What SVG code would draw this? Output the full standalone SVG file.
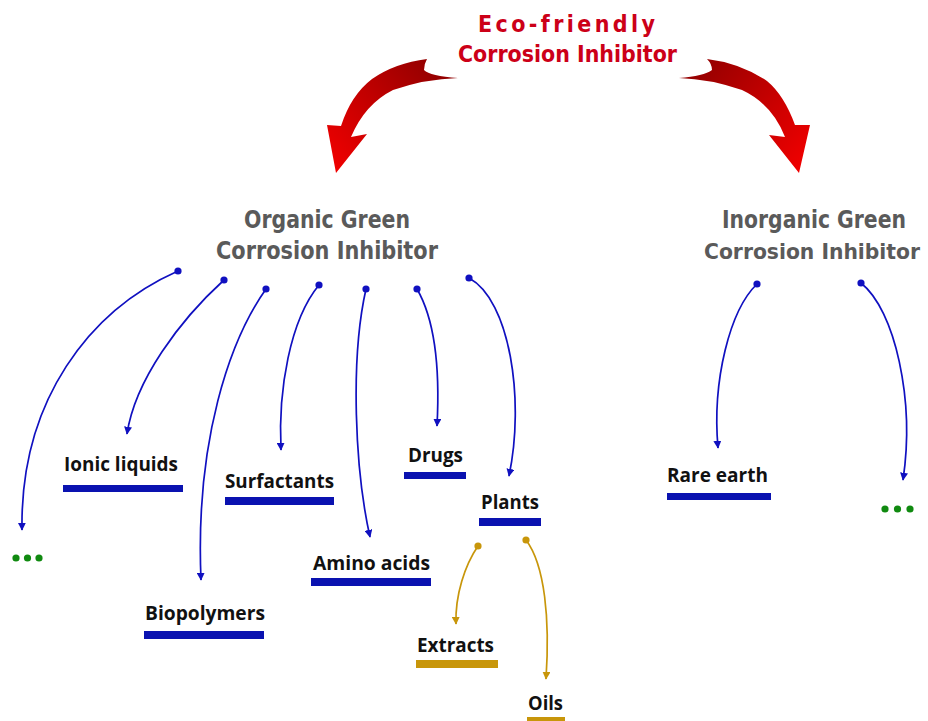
<svg xmlns="http://www.w3.org/2000/svg" width="928" height="721" viewBox="0 0 928 721">
<defs>
<linearGradient id="gL" gradientUnits="userSpaceOnUse" x1="450" y1="70" x2="335" y2="170">
<stop offset="0" stop-color="#8e0000"/><stop offset="0.5" stop-color="#c00000"/><stop offset="1" stop-color="#f00000"/>
</linearGradient>
<linearGradient id="gR" gradientUnits="userSpaceOnUse" x1="680" y1="70" x2="800" y2="170">
<stop offset="0" stop-color="#8e0000"/><stop offset="0.5" stop-color="#c00000"/><stop offset="1" stop-color="#f00000"/>
</linearGradient>
<marker id="aB" viewBox="0 0 10 10" refX="9" refY="5" markerWidth="8" markerHeight="8" markerUnits="userSpaceOnUse" orient="auto">
<path d="M0,0 L10,5 L0,10 z" fill="#1010c0"/>
</marker>
<marker id="aG" viewBox="0 0 10 10" refX="9" refY="5" markerWidth="8" markerHeight="8" markerUnits="userSpaceOnUse" orient="auto">
<path d="M0,0 L10,5 L0,10 z" fill="#c8960a"/>
</marker>
<style>
.title{font-family:"DejaVu Sans Condensed","DejaVu Sans",sans-serif;font-stretch:condensed;font-weight:bold;fill:#cc0018;font-size:23px}
.head{font-family:"DejaVu Sans Condensed","DejaVu Sans",sans-serif;font-stretch:condensed;font-weight:bold;fill:#5a5a5a;font-size:24px}
.headS{font-family:"DejaVu Sans Condensed","DejaVu Sans",sans-serif;font-stretch:condensed;font-weight:bold;fill:#5a5a5a;font-size:22px}
.lbl{font-family:"Open Sans","Liberation Sans",sans-serif;font-weight:bold;fill:#111;font-size:19.5px}
.bar{fill:#0a12b0}
.barG{fill:#c8960a}
.cB{fill:none;stroke:#1010c0;stroke-width:1.7;marker-end:url(#aB)}
.cG{fill:none;stroke:#c8960a;stroke-width:1.7;marker-end:url(#aG)}
.dB{fill:#1010c0}
.dG{fill:#c8960a}
.dots{fill:#108a10}
</style>
</defs>

<g id="title">
<text class="title" x="478" y="32" textLength="177" lengthAdjust="spacing">Eco-friendly</text>
<text class="title" x="458" y="62" textLength="219" lengthAdjust="spacingAndGlyphs">Corrosion Inhibitor</text>
</g>

<g id="red-arrows">
<path fill="url(#gL)" d="M427,59 Q424,64 424,70 Q430,76 458,78 Q425,79 393,90 Q365,104 351,137 L367,134 L336,173 L327,125 L341,126 Q351,95 372,79 Q395,63 427,59 z"/>
<path fill="url(#gR)" d="M707,59 Q712,64 712,70 Q704,76 679,78 Q710,79 742,90 Q772,104 785,137 L769,135 L799,173 L810,125 L795,125 Q784,95 767,81 Q740,63 707,59 z"/>
</g>

<g id="organic">
<text class="head" x="244" y="228" textLength="166" lengthAdjust="spacingAndGlyphs">Organic Green</text>
<text class="head" x="216" y="259" textLength="222" lengthAdjust="spacingAndGlyphs">Corrosion Inhibitor</text>
</g>
<g id="inorganic">
<text class="head" x="722" y="228" textLength="184" lengthAdjust="spacingAndGlyphs">Inorganic Green</text>
<text class="headS" x="704" y="259" textLength="216" lengthAdjust="spacingAndGlyphs">Corrosion Inhibitor</text>
</g>

<g id="connectors">
<path class="cB" d="M178,271 C90,310 20,400 22,530"/>
<path class="cB" d="M224,280 C180,320 135,380 127,434"/>
<path class="cB" d="M266,289 C230,340 195,440 201,580"/>
<path class="cB" d="M319,285 C290,320 278,390 281,450"/>
<path class="cB" d="M366,289 C350,360 355,470 370,537"/>
<path class="cB" d="M417,289 C435,320 440,370 437,426"/>
<path class="cB" d="M469,278 C510,300 525,400 509,476"/>
<path class="cB" d="M757,284 C730,310 712,380 718,448"/>
<path class="cB" d="M861,283 C895,310 915,400 903,480"/>
<path class="cG" d="M478,546 C465,565 455,595 456,624"/>
<path class="cG" d="M526,540 C545,565 550,620 546,679"/>
<circle class="dB" cx="178" cy="271" r="3.6"/>
<circle class="dB" cx="224" cy="280" r="3.6"/>
<circle class="dB" cx="266" cy="289" r="3.6"/>
<circle class="dB" cx="319" cy="285" r="3.6"/>
<circle class="dB" cx="366" cy="289" r="3.6"/>
<circle class="dB" cx="417" cy="289" r="3.6"/>
<circle class="dB" cx="469" cy="278" r="3.6"/>
<circle class="dB" cx="757" cy="284" r="3.6"/>
<circle class="dB" cx="861" cy="283" r="3.6"/>
<circle class="dG" cx="478" cy="546" r="3.6"/>
<circle class="dG" cx="526" cy="540" r="3.6"/>
</g>

<g id="more-organic">
<circle class="dots" cx="16" cy="558" r="3.6"/>
<circle class="dots" cx="27.5" cy="558" r="3.6"/>
<circle class="dots" cx="39" cy="558" r="3.6"/>
</g>
<g id="ionic-liquids">
<text class="lbl" x="64" y="471" textLength="114" lengthAdjust="spacingAndGlyphs">Ionic liquids</text>
<rect class="bar" x="63" y="485" width="120" height="7"/>
</g>
<g id="biopolymers">
<text class="lbl" x="145" y="620" textLength="120" lengthAdjust="spacingAndGlyphs">Biopolymers</text>
<rect class="bar" x="144" y="631" width="120" height="8"/>
</g>
<g id="surfactants">
<text class="lbl" x="225" y="488" textLength="109" lengthAdjust="spacingAndGlyphs">Surfactants</text>
<rect class="bar" x="225" y="497" width="109" height="8"/>
</g>
<g id="amino-acids">
<text class="lbl" x="313" y="570" textLength="117" lengthAdjust="spacingAndGlyphs">Amino acids</text>
<rect class="bar" x="311" y="578" width="120" height="8"/>
</g>
<g id="drugs">
<text class="lbl" x="408" y="462" textLength="55" lengthAdjust="spacingAndGlyphs">Drugs</text>
<rect class="bar" x="404" y="472" width="62" height="7"/>
</g>
<g id="plants">
<text class="lbl" x="481" y="509" textLength="58" lengthAdjust="spacingAndGlyphs">Plants</text>
<rect class="bar" x="479" y="518" width="62" height="8"/>
</g>
<g id="extracts">
<text class="lbl" x="417" y="652" textLength="77" lengthAdjust="spacingAndGlyphs">Extracts</text>
<rect class="barG" x="416" y="660" width="82" height="8"/>
</g>
<g id="oils">
<text class="lbl" x="528" y="710" textLength="35" lengthAdjust="spacingAndGlyphs">Oils</text>
<rect class="barG" x="527" y="717" width="38" height="8"/>
</g>
<g id="rare-earth">
<text class="lbl" x="667" y="482" textLength="101" lengthAdjust="spacingAndGlyphs">Rare earth</text>
<rect class="bar" x="667" y="493" width="104" height="7"/>
</g>
<g id="more-inorganic">
<circle class="dots" cx="885" cy="509" r="3.6"/>
<circle class="dots" cx="897.5" cy="509" r="3.6"/>
<circle class="dots" cx="910" cy="509" r="3.6"/>
</g>
</svg>
